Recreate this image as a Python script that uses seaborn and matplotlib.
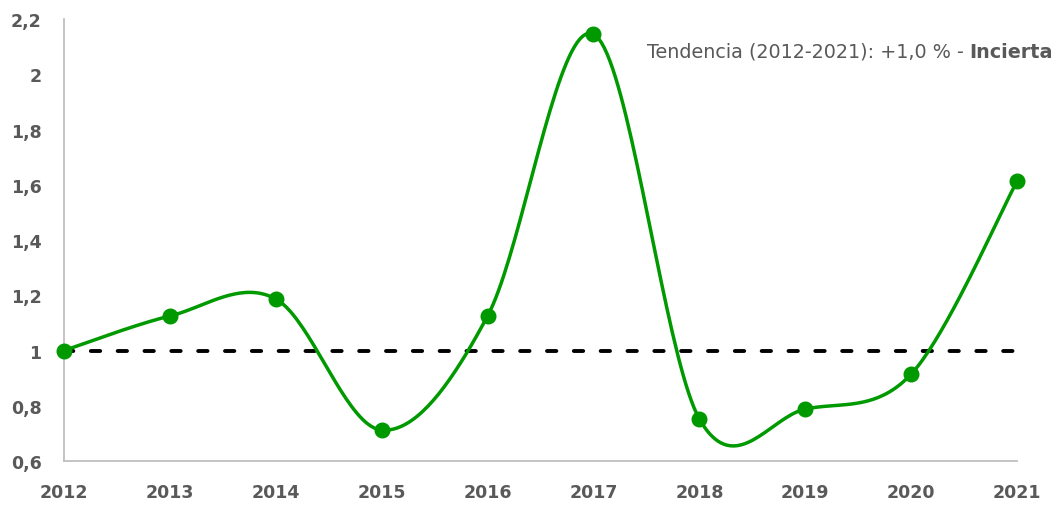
import matplotlib
matplotlib.use("Agg")
import matplotlib.pyplot as plt
import numpy as np
import pandas as pd
import seaborn as sns
from matplotlib.ticker import FuncFormatter

years = [2012, 2013, 2014, 2015, 2016, 2017, 2018, 2019, 2020, 2021]
values = [1.0, 1.125, 1.187, 0.712, 1.125, 2.146, 0.752, 0.788, 0.915, 1.614]
y_ticks = [0.6, 0.8, 1.0, 1.2, 1.4, 1.6, 1.8, 2.0, 2.2]
trend_text = "Tendencia (2012-2021): +1,0 % - "
trend_word = "Incierta"

GREEN = "#009900"
GREY = "#595959"
AXIS = "#bfbfbf"


def smooth_curve(x, y, n=40):
    # Excel-style smoothed line: cubic Bezier segments, control points at 1/6 of neighbours
    p = np.column_stack([x, y]).astype(float)
    pts = []
    for i in range(len(p) - 1):
        p0 = p[i - 1] if i > 0 else p[i]
        p1, p2 = p[i], p[i + 1]
        p3 = p[i + 2] if i + 2 < len(p) else p[i + 1]
        c1 = p1 + (p2 - p0) / 6
        c2 = p2 - (p3 - p1) / 6
        t = np.linspace(0, 1, n)[:, None]
        seg = ((1 - t) ** 3) * p1 + 3 * ((1 - t) ** 2) * t * c1 + 3 * (1 - t) * t ** 2 * c2 + t ** 3 * p2
        pts.append(seg if i == 0 else seg[1:])
    s = np.vstack(pts)
    return pd.DataFrame({"x": s[:, 0], "y": s[:, 1]})


df = pd.DataFrame({"year": years, "value": values})
curve = smooth_curve(df["year"], df["value"])

sns.set_style("white")
plt.rcParams["font.family"] = ["DejaVu Sans"]

fig = plt.figure(figsize=(10.64, 5.06), dpi=100)
ax = fig.add_axes([0.060, 0.087, 0.896, 0.873])

ax.axhline(1, color="black", lw=2.8, ls=(0, (2.4, 4.5)), dash_capstyle="round", zorder=2)
sns.lineplot(data=curve, x="x", y="y", sort=False, color=GREEN, lw=2.5, ax=ax, zorder=3)
ax.plot(df["year"], df["value"], "o", color=GREEN, ms=10.5, zorder=4, clip_on=False)

ax.set_xlim(2012, 2021)
ax.set_ylim(0.6, 2.2)
ax.set_xticks(years)
ax.set_yticks(y_ticks)
ax.yaxis.set_major_formatter(FuncFormatter(lambda v, _: f"{v:g}".replace(".", ",")))
ax.set_xlabel("")
ax.set_ylabel("")

for s in ["top", "right"]:
    ax.spines[s].set_visible(False)
for s in ["left", "bottom"]:
    ax.spines[s].set_color(AXIS)
    ax.spines[s].set_linewidth(1.3)

ax.tick_params(axis="both", direction="in", length=5, width=1.3, color=AXIS,
               labelcolor=GREY, labelsize=12.5)
ax.tick_params(axis="y", pad=16)
ax.tick_params(axis="x", pad=16)
for lab in ax.get_xticklabels() + ax.get_yticklabels():
    lab.set_fontweight("bold")

bold = ax.text(1053 / 1064, 1 - 52 / 506, trend_word, transform=fig.transFigure,
               ha="right", va="center", fontsize=13.8, fontweight="bold", color=GREY)
ax.annotate(trend_text, xy=(0, 0.5), xycoords=bold, ha="right", va="center",
            fontsize=13.8, color=GREY)

fig.savefig("out.png", dpi=100)
